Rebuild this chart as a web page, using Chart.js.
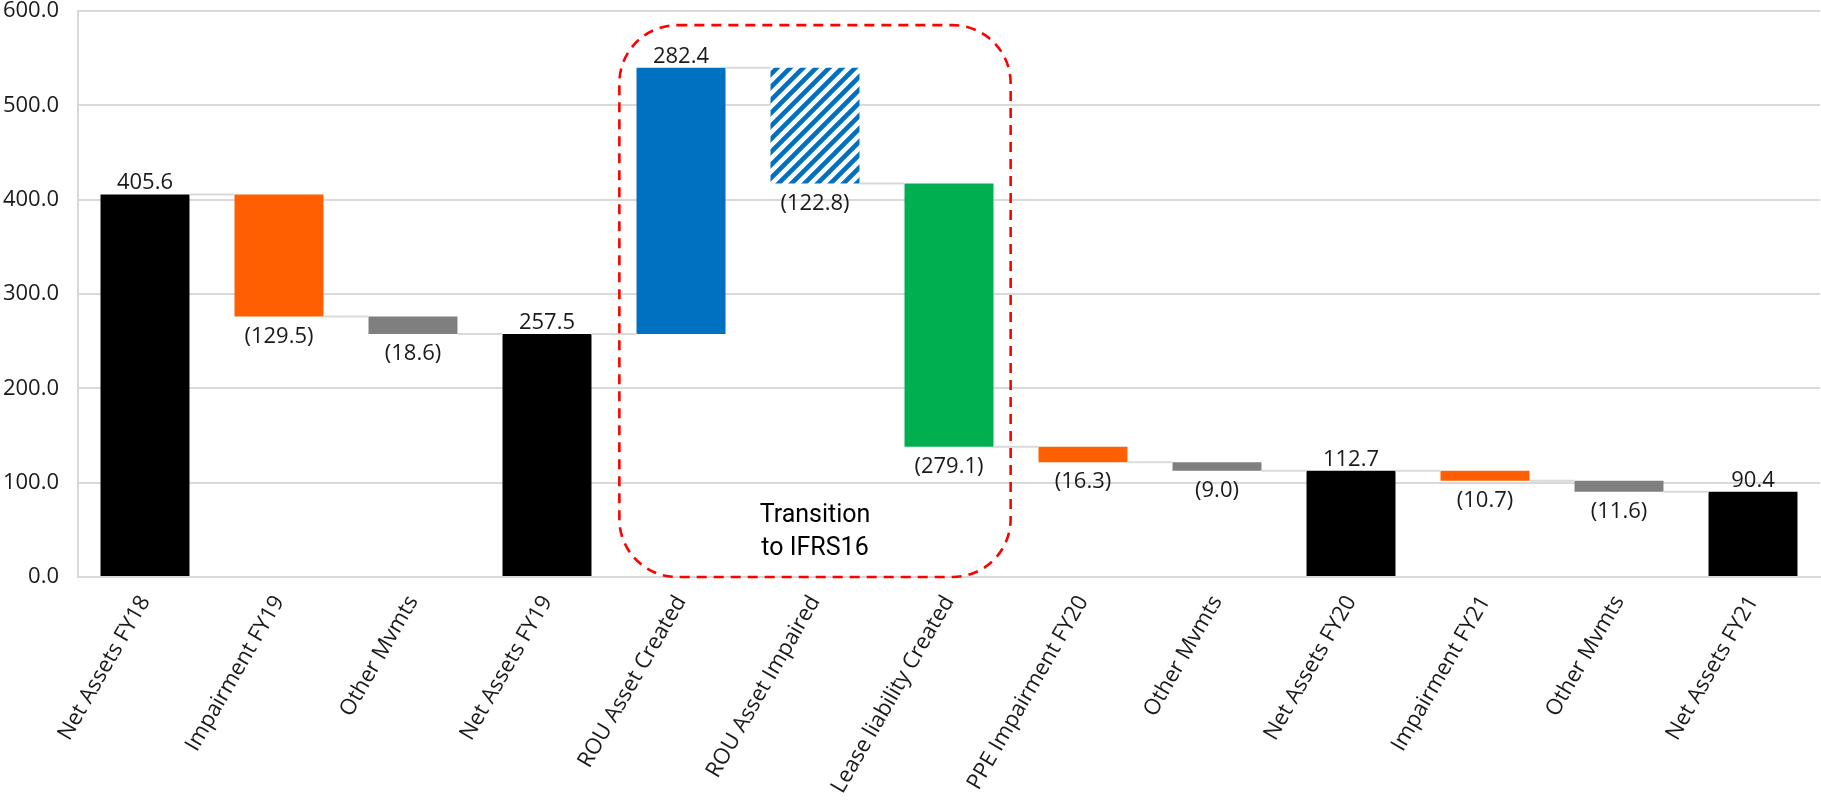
<!DOCTYPE html>
<html>
<head>
<meta charset="utf-8">
<title>Net assets bridge FY18 to FY21</title>
<script src="https://cdn.jsdelivr.net/npm/chart.js@4.4.1/dist/chart.umd.min.js"></script>
<style>
  html, body { margin: 0; padding: 0; background: #ffffff; }
  #wrap { width: 1821px; height: 805px; position: relative; }
</style>
</head>
<body>
<div id="wrap"><canvas id="bridge"></canvas></div>
<script>
// ---- data ----
const categories = [
  'Net Assets FY18', 'Impairment FY19', 'Other Mvmts', 'Net Assets FY19',
  'ROU Asset Created', 'ROU Asset Impaired', 'Lease liability Created',
  'PPE Impairment FY20', 'Other Mvmts', 'Net Assets FY20',
  'Impairment FY21', 'Other Mvmts', 'Net Assets FY21'
];
const values = [405.6, -129.5, -18.6, 257.5, 282.4, -122.8, -279.1, -16.3, -9.0, 112.7, -10.7, -11.6, 90.4];
const isTotal = [true, false, false, true, false, false, false, false, false, true, false, false, true];
const barKind = ['total', 'impairment', 'other', 'total', 'rouCreated', 'rouImpaired', 'lease',
                 'impairment', 'other', 'total', 'impairment', 'other', 'total'];
const yTicks = [0, 100, 200, 300, 400, 500, 600];
const transitionText = ['Transition', 'to IFRS16'];
const transitionFirst = 4;   // first category inside the IFRS16 box
const transitionLast = 6;    // last category inside the IFRS16 box

// ---- styles ----
const FONT = '"Open Sans", "Noto Sans", sans-serif';
const TEXT = '#1a1a1a';
const GRID = '#d9d9d9';

function stripePattern(color) {
  const size = 13;
  const c = document.createElement('canvas');
  c.width = size; c.height = size;
  const g = c.getContext('2d');
  g.fillStyle = '#ffffff';
  g.fillRect(0, 0, size, size);
  g.strokeStyle = color;
  g.lineWidth = 4.6;
  g.lineCap = 'square';
  g.beginPath();
  g.moveTo(-size, size * 2); g.lineTo(size * 2, -size);
  g.moveTo(-size, size);     g.lineTo(size, -size);
  g.moveTo(0, size * 2);     g.lineTo(size * 2, 0);
  g.stroke();
  return g.createPattern(c, 'repeat');
}

const palette = {
  total: '#000000',
  impairment: '#FF5F00',
  other: '#7F7F7F',
  rouCreated: '#0070C0',
  rouImpaired: stripePattern('#0070C0'),
  lease: '#00B050'
};

// ---- waterfall ranges built from the values ----
const ranges = [];
const levels = [];
let running = 0;
values.forEach((v, i) => {
  if (isTotal[i]) {
    ranges.push([0, v]);
    running = v;
  } else {
    ranges.push([running, +(running + v).toFixed(1)]);
    running = +(running + v).toFixed(1);
  }
  levels.push(running);
});

function labelText(v) {
  return v < 0 ? '(' + Math.abs(v).toFixed(1) + ')' : v.toFixed(1);
}

// connectors, value labels and the IFRS16 call-out
const waterfallDecor = {
  id: 'waterfallDecor',
  afterDatasetsDraw(chart) {
    const ctx = chart.ctx;
    const meta = chart.getDatasetMeta(0);
    const xs = chart.scales.x;
    const ys = chart.scales.y;

    // connectors between neighbouring bars
    ctx.save();
    ctx.strokeStyle = GRID;
    ctx.lineWidth = 2;
    ctx.beginPath();
    for (let i = 0; i < meta.data.length - 1; i++) {
      const a = meta.data[i], b = meta.data[i + 1];
      const py = ys.getPixelForValue(levels[i]);
      ctx.moveTo(a.x + a.width / 2, py);
      ctx.lineTo(b.x - b.width / 2, py);
    }
    ctx.stroke();
    ctx.restore();

    // value labels
    ctx.save();
    ctx.font = '22px ' + FONT;
    ctx.fillStyle = TEXT;
    ctx.textAlign = 'center';
    ctx.textBaseline = 'alphabetic';
    meta.data.forEach((bar, i) => {
      const v = values[i];
      const top = ys.getPixelForValue(Math.max(ranges[i][0], ranges[i][1]));
      const bottom = ys.getPixelForValue(Math.min(ranges[i][0], ranges[i][1]));
      if (v >= 0) {
        ctx.fillText(labelText(v), bar.x, top - 5);
      } else {
        ctx.fillText(labelText(v), bar.x, bottom + 26);
      }
    });
    ctx.restore();

    // dashed rounded box around the IFRS16 transition steps
    const left = xs.getPixelForValue(transitionFirst - 0.46);
    const right = xs.getPixelForValue(transitionLast + 0.46);
    const top = ys.getPixelForValue(585);
    const bottom = ys.getPixelForValue(0);
    ctx.save();
    ctx.strokeStyle = '#FF0000';
    ctx.lineWidth = 2.6;
    ctx.setLineDash([10, 7]);
    ctx.beginPath();
    ctx.roundRect(left, top, right - left, bottom - top, 58);
    ctx.stroke();
    ctx.restore();

    // call-out text
    const cx = xs.getPixelForValue((transitionFirst + transitionLast) / 2);
    const base = ys.getPixelForValue(58);
    ctx.save();
    ctx.font = '25px Roboto, "Noto Sans", sans-serif';
    ctx.fillStyle = '#000000';
    ctx.textAlign = 'center';
    ctx.textBaseline = 'alphabetic';
    transitionText.forEach((line, k) => ctx.fillText(line, cx, base + k * 33));
    ctx.restore();
  }
};

new Chart(document.getElementById('bridge'), {
  type: 'bar',
  data: {
    labels: categories,
    datasets: [{
      data: ranges,
      backgroundColor: barKind.map(k => palette[k]),
      borderWidth: 0,
      barPercentage: 0.664,
      categoryPercentage: 1.0
    }]
  },
  options: {
    responsive: true,
    maintainAspectRatio: false,
    animation: false,
    layout: { padding: { top: 11, right: 1, bottom: 0, left: 0 } },
    plugins: {
      legend: { display: false },
      tooltip: { enabled: false },
      title: { display: false }
    },
    scales: {
      x: {
        grid: { display: false, drawTicks: false },
        border: { display: true, color: GRID, width: 2 },
        ticks: {
          autoSkip: false,
          maxRotation: 60,
          minRotation: 60,
          padding: 14,
          color: TEXT,
          font: { family: FONT, size: 22 }
        },
        afterFit(scale) {
          scale.height = 228;
          scale.paddingLeft = 0;
          scale.paddingRight = 0;
        }
      },
      y: {
        min: 0,
        max: 600,
        afterBuildTicks(scale) { scale.ticks = yTicks.map(v => ({ value: v })); },
        grid: { color: GRID, lineWidth: 2, drawTicks: false },
        border: { display: true, color: GRID, width: 2 },
        ticks: {
          padding: 19,
          color: TEXT,
          font: { family: FONT, size: 22 },
          callback: v => Number(v).toFixed(1)
        },
        afterFit(scale) {
          scale.width = 78;
          scale.paddingTop = 0;
          scale.paddingBottom = 0;
        }
      }
    }
  },
  plugins: [waterfallDecor]
});
</script>
</body>
</html>
